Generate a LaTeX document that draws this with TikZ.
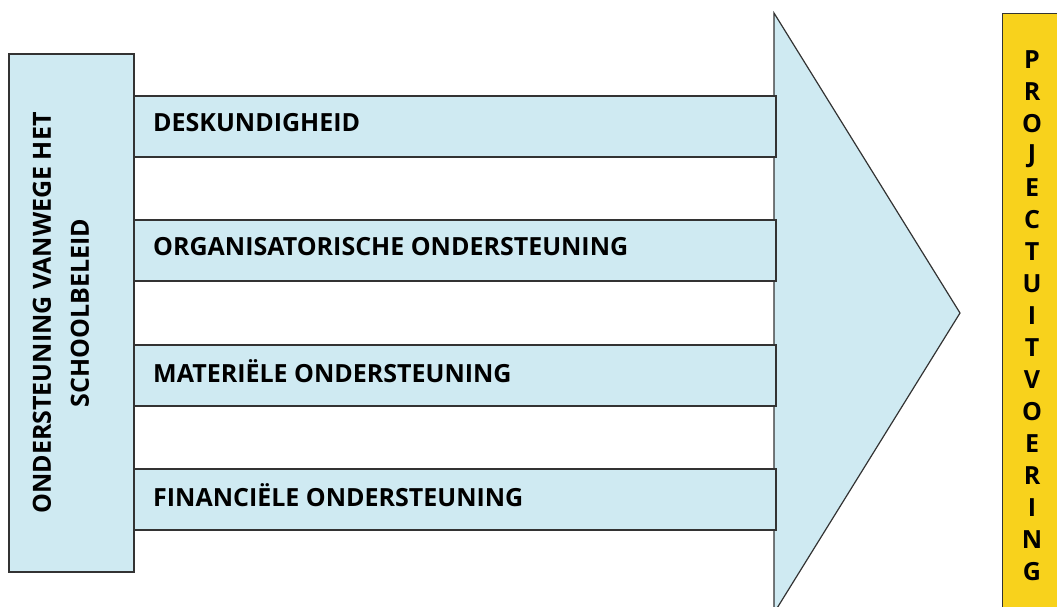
\documentclass[tikz,border=0pt]{standalone}
\usepackage{fontspec}
\setmainfont{Open Sans}
\definecolor{lblue}{HTML}{CFEAF2}
\definecolor{pyellow}{HTML}{F8D21C}
\begin{document}
\begin{tikzpicture}[x=1pt,y=-1pt,
  bar/.style={draw=black!80,line width=1.2pt,fill=lblue},
  bigfont/.style={font=\bfseries\fontsize{25}{38}\selectfont},
  bartext/.style={bigfont,anchor=west,inner sep=0pt},
]
\useasboundingbox (0,0) rectangle (1057,606);
% triangle head
\draw[bar] (774,13) -- (960,313) -- (774,613) -- cycle;
% left box
\node[bar,minimum width=125pt,minimum height=518pt,inner sep=0pt] (left) at (71.5,313) {};
\node[bigfont,rotate=90,align=center,inner sep=0pt] (lefttext) at (61,313) {ONDERSTEUNING VANWEGE HET\\SCHOOLBELEID};
% bars
\foreach \n/\y/\t in {b1/126.5/DESKUNDIGHEID, b2/250.5/ORGANISATORISCHE ONDERSTEUNING, b3/375.5/MATERIËLE ONDERSTEUNING, b4/499.5/FINANCIËLE ONDERSTEUNING}{
  \node[bar,minimum width=642pt,minimum height=61pt,inner sep=0pt] (\n) at (455,\y) {};
  \node[bartext] (\n t) at (153,{\y-4}) {\t};
}
% yellow box
\node[draw=black!80,line width=1.2pt,fill=pyellow,minimum width=60pt,minimum height=600pt,anchor=north west,inner sep=0pt] (right) at (1002,13) {};
\foreach \l [count=\i from 0] in {P,R,O,J,E,C,T,U,I,T,V,O,E,R,I,N,G}{
  \node[bigfont,inner sep=0pt] (r\i) at (1032,{60+\i*32}) {\l};
}
\end{tikzpicture}
\end{document}
